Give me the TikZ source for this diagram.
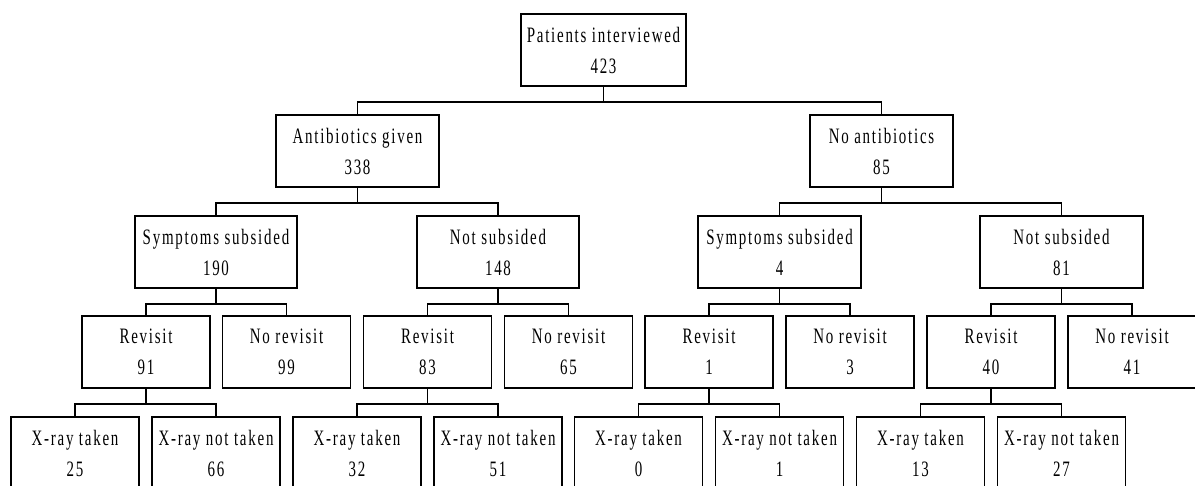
\documentclass[tikz,border=0pt]{standalone}
\usepackage{fontspec}
\setmainfont{Liberation Serif}[FakeStretch=0.68, LetterSpace=8]
\usetikzlibrary{positioning}

\begin{document}
\begin{tikzpicture}[x=1pt, y=-1pt]
\tikzstyle{tb}=[draw, line width=1.8pt, minimum width=128pt, minimum height=72pt,
  inner sep=0pt, align=center, font=\fontsize{22}{31}\selectfont]
\tikzstyle{tl}=[line width=1.8pt]
\useasboundingbox (0,0) rectangle (1195,486);
\clip (0,0) rectangle (1195,486);
% top
\node[tb, minimum width=165pt] (pi) at (603.5,50) {Patients interviewed\\423};
% antibiotics
\node[tb, minimum width=163pt] (ag) at (357.5,151) {Antibiotics given\\338};
\node[tb, minimum width=143pt] (na) at (881.5,151) {No antibiotics\\85};
% subsided
\node[tb, minimum width=162pt] (ssa) at (216,252) {Symptoms subsided\\190};
\node[tb, minimum width=162pt] (nsa) at (498,252) {Not subsided\\148};
\node[tb, minimum width=163pt] (ssn) at (779.5,252) {Symptoms subsided\\4};
\node[tb, minimum width=163pt] (nsn) at (1061.5,252) {Not subsided\\81};
% revisit
\node[tb] (rva) at (146,352) {Revisit\\91};
\node[tb] (nra) at (286.5,352) {No revisit\\99};
\node[tb] (rvb) at (427.5,352) {Revisit\\83};
\node[tb] (nrb) at (568.5,352) {No revisit\\65};
\node[tb] (rvc) at (709,352) {Revisit\\1};
\node[tb] (nrc) at (850,352) {No revisit\\3};
\node[tb] (rvd) at (991,352) {Revisit\\40};
\node[tb] (nrd) at (1132,352) {No revisit\\41};
% x-ray
\node[tb] (xta) at (75,453) {X-ray taken\\25};
\node[tb] (xna) at (216,453) {X-ray not taken\\66};
\node[tb] (xtb) at (357,453) {X-ray taken\\32};
\node[tb] (xnb) at (498,453) {X-ray not taken\\51};
\node[tb] (xtc) at (638.5,453) {X-ray taken\\0};
\node[tb] (xnc) at (779.5,453) {X-ray not taken\\1};
\node[tb] (xtd) at (920.5,453) {X-ray taken\\13};
\node[tb] (xnd) at (1061.5,453) {X-ray not taken\\27};
% connectors
\draw[tl] (pi.south) -- ++(0,15) -| (ag.north);
\draw[tl] (pi.south) -- ++(0,15) -| (na.north);
\draw[tl] (ag.south) -- ++(0,15) -| (ssa.north);
\draw[tl] (ag.south) -- ++(0,15) -| (nsa.north);
\draw[tl] (na.south) -- ++(0,15) -| (ssn.north);
\draw[tl] (na.south) -- ++(0,15) -| (nsn.north);
\draw[tl] (ssa.south) -- ++(0,15) -| (rva.north);
\draw[tl] (ssa.south) -- ++(0,15) -| (nra.north);
\draw[tl] (nsa.south) -- ++(0,15) -| (rvb.north);
\draw[tl] (nsa.south) -- ++(0,15) -| (nrb.north);
\draw[tl] (ssn.south) -- ++(0,15) -| (rvc.north);
\draw[tl] (ssn.south) -- ++(0,15) -| (nrc.north);
\draw[tl] (nsn.south) -- ++(0,15) -| (rvd.north);
\draw[tl] (nsn.south) -- ++(0,15) -| (nrd.north);
\draw[tl] (rva.south) -- ++(0,15) -| (xta.north);
\draw[tl] (rva.south) -- ++(0,15) -| (xna.north);
\draw[tl] (rvb.south) -- ++(0,15) -| (xtb.north);
\draw[tl] (rvb.south) -- ++(0,15) -| (xnb.north);
\draw[tl] (rvc.south) -- ++(0,15) -| (xtc.north);
\draw[tl] (rvc.south) -- ++(0,15) -| (xnc.north);
\draw[tl] (rvd.south) -- ++(0,15) -| (xtd.north);
\draw[tl] (rvd.south) -- ++(0,15) -| (xnd.north);
\end{tikzpicture}
\end{document}
